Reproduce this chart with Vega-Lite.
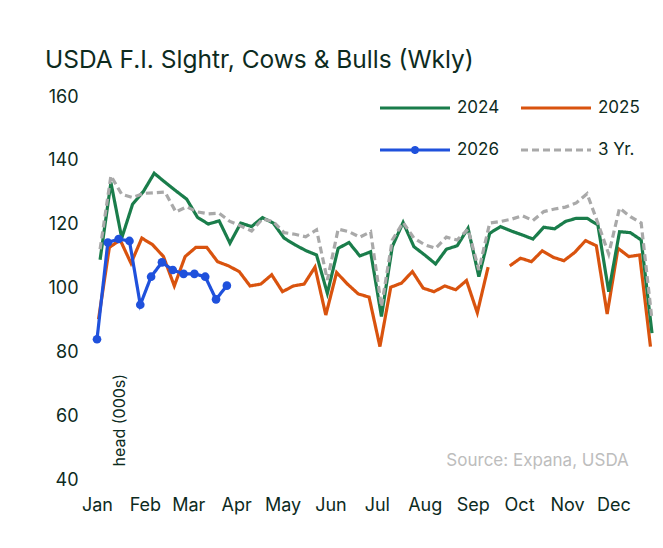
{
  "$schema": "https://vega.github.io/schema/vega-lite/v6.json",
  "width": 555,
  "height": 383,
  "autosize": {"type": "none"},
  "padding": {"left": 97, "top": 97, "right": 11, "bottom": 68},
  "background": "white",
  "title": {"text": "USDA F.I. Slghtr, Cows & Bulls (Wkly)", "anchor": "start", "frame": "group", "dx": -52, "offset": 15, "fontSize": 24.5, "font": "Inter", "fontWeight": "normal", "color": "#0d2b1e"},
  "config": {
    "view": {"stroke": null},
    "font": "Inter",
    "axis": {"grid": false, "domain": false, "ticks": false, "tickSize": 0, "labelFont": "Inter", "labelFontSize": 18, "labelColor": "#0d2b1e"}
  },
  "data": {"values": [
    {"series":"2025","date":"2025/01/02","value":90.4},{"series":"2025","date":"2025/01/09","value":112.9},{"series":"2025","date":"2025/01/16","value":115.2},{"series":"2025","date":"2025/01/23","value":107.9},{"series":"2025","date":"2025/01/30","value":115.8},
    {"series":"2025","date":"2025/02/06","value":113.7},{"series":"2025","date":"2025/02/13","value":110.0},{"series":"2025","date":"2025/02/20","value":100.8},{"series":"2025","date":"2025/02/27","value":110.0},
    {"series":"2025","date":"2025/03/06","value":112.9},{"series":"2025","date":"2025/03/13","value":112.9},{"series":"2025","date":"2025/03/20","value":108.4},{"series":"2025","date":"2025/03/27","value":107.1},
    {"series":"2025","date":"2025/04/03","value":105.3},{"series":"2025","date":"2025/04/10","value":100.8},{"series":"2025","date":"2025/04/17","value":101.4},{"series":"2025","date":"2025/04/24","value":104.3},
    {"series":"2025","date":"2025/05/01","value":99.0},{"series":"2025","date":"2025/05/08","value":100.8},{"series":"2025","date":"2025/05/15","value":101.4},{"series":"2025","date":"2025/05/22","value":106.7},{"series":"2025","date":"2025/05/29","value":91.7},
    {"series":"2025","date":"2025/06/05","value":105.0},{"series":"2025","date":"2025/06/12","value":101.4},{"series":"2025","date":"2025/06/19","value":98.3},{"series":"2025","date":"2025/06/26","value":97.3},
    {"series":"2025","date":"2025/07/03","value":81.8},{"series":"2025","date":"2025/07/10","value":100.4},{"series":"2025","date":"2025/07/17","value":101.7},{"series":"2025","date":"2025/07/24","value":105.3},{"series":"2025","date":"2025/07/31","value":100.1},
    {"series":"2025","date":"2025/08/07","value":99.0},{"series":"2025","date":"2025/08/14","value":100.8},{"series":"2025","date":"2025/08/21","value":99.6},{"series":"2025","date":"2025/08/28","value":102.5},
    {"series":"2025","date":"2025/09/04","value":92.4},{"series":"2025","date":"2025/09/11","value":106.7},{"series":"2025","date":"2025/09/18","value":null},{"series":"2025","date":"2025/09/25","value":107.1},
    {"series":"2025","date":"2025/10/02","value":109.5},{"series":"2025","date":"2025/10/09","value":108.4},{"series":"2025","date":"2025/10/16","value":111.8},{"series":"2025","date":"2025/10/23","value":109.8},{"series":"2025","date":"2025/10/30","value":108.7},
    {"series":"2025","date":"2025/11/06","value":111.3},{"series":"2025","date":"2025/11/13","value":115.0},{"series":"2025","date":"2025/11/20","value":113.4},{"series":"2025","date":"2025/11/27","value":92.0},
    {"series":"2025","date":"2025/12/04","value":112.6},{"series":"2025","date":"2025/12/11","value":110.0},{"series":"2025","date":"2025/12/18","value":110.5},{"series":"2025","date":"2025/12/25","value":81.8},

    {"series":"2024","date":"2025/01/03","value":109.0},{"series":"2024","date":"2025/01/10","value":133.2},{"series":"2024","date":"2025/01/17","value":115.8},{"series":"2024","date":"2025/01/24","value":126.4},{"series":"2024","date":"2025/01/31","value":130.4},
    {"series":"2024","date":"2025/02/07","value":136.1},{"series":"2024","date":"2025/02/14","value":133.3},{"series":"2024","date":"2025/02/21","value":130.6},{"series":"2024","date":"2025/02/28","value":128.0},
    {"series":"2024","date":"2025/03/07","value":122.3},{"series":"2024","date":"2025/03/14","value":120.2},{"series":"2024","date":"2025/03/21","value":121.2},{"series":"2024","date":"2025/03/28","value":114.2},
    {"series":"2024","date":"2025/04/04","value":120.5},{"series":"2024","date":"2025/04/11","value":119.4},{"series":"2024","date":"2025/04/18","value":122.2},{"series":"2024","date":"2025/04/25","value":120.5},
    {"series":"2024","date":"2025/05/02","value":115.8},{"series":"2024","date":"2025/05/09","value":113.7},{"series":"2024","date":"2025/05/16","value":111.9},{"series":"2024","date":"2025/05/23","value":110.5},{"series":"2024","date":"2025/05/30","value":98.5},
    {"series":"2024","date":"2025/06/06","value":112.6},{"series":"2024","date":"2025/06/13","value":114.4},{"series":"2024","date":"2025/06/20","value":110.2},{"series":"2024","date":"2025/06/27","value":111.5},
    {"series":"2024","date":"2025/07/04","value":91.2},{"series":"2024","date":"2025/07/11","value":113.1},{"series":"2024","date":"2025/07/18","value":120.7},{"series":"2024","date":"2025/07/25","value":113.1},
    {"series":"2024","date":"2025/08/01","value":110.5},{"series":"2024","date":"2025/08/08","value":107.7},{"series":"2024","date":"2025/08/15","value":112.3},{"series":"2024","date":"2025/08/22","value":113.4},{"series":"2024","date":"2025/08/29","value":118.9},
    {"series":"2024","date":"2025/09/05","value":103.7},{"series":"2024","date":"2025/09/12","value":117.3},{"series":"2024","date":"2025/09/19","value":119.4},{"series":"2024","date":"2025/09/26","value":118.0},
    {"series":"2024","date":"2025/10/03","value":116.8},{"series":"2024","date":"2025/10/10","value":115.5},{"series":"2024","date":"2025/10/17","value":119.2},{"series":"2024","date":"2025/10/24","value":118.7},{"series":"2024","date":"2025/10/31","value":121.0},
    {"series":"2024","date":"2025/11/07","value":122.0},{"series":"2024","date":"2025/11/14","value":122.0},{"series":"2024","date":"2025/11/21","value":119.9},{"series":"2024","date":"2025/11/28","value":99.0},
    {"series":"2024","date":"2025/12/05","value":117.8},{"series":"2024","date":"2025/12/12","value":117.5},{"series":"2024","date":"2025/12/19","value":115.2},{"series":"2024","date":"2025/12/26","value":86.0},

    {"series":"3 Yr.","date":"2025/01/03","value":112.3},{"series":"3 Yr.","date":"2025/01/10","value":135.3},{"series":"3 Yr.","date":"2025/01/17","value":129.5},{"series":"3 Yr.","date":"2025/01/24","value":128.5},{"series":"3 Yr.","date":"2025/01/31","value":129.8},
    {"series":"3 Yr.","date":"2025/02/07","value":130.0},{"series":"3 Yr.","date":"2025/02/14","value":130.2},{"series":"3 Yr.","date":"2025/02/21","value":124.0},{"series":"3 Yr.","date":"2025/02/28","value":125.6},
    {"series":"3 Yr.","date":"2025/03/07","value":124.0},{"series":"3 Yr.","date":"2025/03/14","value":123.4},{"series":"3 Yr.","date":"2025/03/21","value":123.6},{"series":"3 Yr.","date":"2025/03/28","value":121.0},
    {"series":"3 Yr.","date":"2025/04/04","value":119.6},{"series":"3 Yr.","date":"2025/04/11","value":118.0},{"series":"3 Yr.","date":"2025/04/18","value":121.8},{"series":"3 Yr.","date":"2025/04/25","value":121.0},
    {"series":"3 Yr.","date":"2025/05/02","value":117.5},{"series":"3 Yr.","date":"2025/05/09","value":117.0},{"series":"3 Yr.","date":"2025/05/16","value":116.2},{"series":"3 Yr.","date":"2025/05/23","value":118.4},{"series":"3 Yr.","date":"2025/05/30","value":102.7},
    {"series":"3 Yr.","date":"2025/06/06","value":118.6},{"series":"3 Yr.","date":"2025/06/13","value":117.8},{"series":"3 Yr.","date":"2025/06/20","value":116.1},{"series":"3 Yr.","date":"2025/06/27","value":117.8},
    {"series":"3 Yr.","date":"2025/07/04","value":94.3},{"series":"3 Yr.","date":"2025/07/11","value":115.2},{"series":"3 Yr.","date":"2025/07/18","value":120.7},{"series":"3 Yr.","date":"2025/07/25","value":115.8},
    {"series":"3 Yr.","date":"2025/08/01","value":113.7},{"series":"3 Yr.","date":"2025/08/08","value":112.6},{"series":"3 Yr.","date":"2025/08/15","value":116.1},{"series":"3 Yr.","date":"2025/08/22","value":115.2},{"series":"3 Yr.","date":"2025/08/29","value":118.6},
    {"series":"3 Yr.","date":"2025/09/05","value":105.8},{"series":"3 Yr.","date":"2025/09/12","value":120.5},{"series":"3 Yr.","date":"2025/09/19","value":121.0},{"series":"3 Yr.","date":"2025/09/26","value":121.7},
    {"series":"3 Yr.","date":"2025/10/03","value":122.8},{"series":"3 Yr.","date":"2025/10/10","value":121.3},{"series":"3 Yr.","date":"2025/10/17","value":124.1},{"series":"3 Yr.","date":"2025/10/24","value":124.9},{"series":"3 Yr.","date":"2025/10/31","value":125.5},
    {"series":"3 Yr.","date":"2025/11/07","value":126.8},{"series":"3 Yr.","date":"2025/11/14","value":129.7},{"series":"3 Yr.","date":"2025/11/21","value":120.5},{"series":"3 Yr.","date":"2025/11/28","value":110.8},
    {"series":"3 Yr.","date":"2025/12/05","value":125.2},{"series":"3 Yr.","date":"2025/12/12","value":122.5},{"series":"3 Yr.","date":"2025/12/19","value":120.5},{"series":"3 Yr.","date":"2025/12/26","value":90.2},

    {"series":"2026","date":"2025/01/01","value":84.1},{"series":"2026","date":"2025/01/08","value":114.4},{"series":"2026","date":"2025/01/15","value":115.5},{"series":"2026","date":"2025/01/22","value":114.9},{"series":"2026","date":"2025/01/29","value":94.9},
    {"series":"2026","date":"2025/02/05","value":103.7},{"series":"2026","date":"2025/02/12","value":108.2},{"series":"2026","date":"2025/02/19","value":105.8},{"series":"2026","date":"2025/02/26","value":104.6},
    {"series":"2026","date":"2025/03/05","value":104.6},{"series":"2026","date":"2025/03/12","value":103.7},{"series":"2026","date":"2025/03/19","value":96.6},{"series":"2026","date":"2025/03/26","value":100.9}
  ]},
  "layer": [
    {
      "mark": {"type": "line", "strokeWidth": 3.2, "invalid": "break-paths-show-domains"},
      "encoding": {
        "x": {"field": "date", "type": "temporal", "scale": {"domain": [{"year": 2025, "month": 1, "date": 1}, {"year": 2025, "month": 12, "date": 26}], "nice": false},
              "axis": {"format": "%b", "tickCount": {"interval": "month", "step": 1}, "labelPadding": 16, "labelFlush": false, "title": null}},
        "y": {"field": "value", "type": "quantitative", "scale": {"domain": [40, 160], "nice": false, "zero": false},
              "axis": {"values": [40, 60, 80, 100, 120, 140, 160], "labelPadding": 19, "title": "head (000s)", "titleFont": "Inter", "titleFontSize": 16, "titleFontWeight": "normal", "titleColor": "#0d2b1e", "titleAngle": 270, "titleAlign": "left", "titleBaseline": "alphabetic", "titleX": 27, "titleY": 369}},
        "color": {"field": "series", "type": "nominal",
                  "scale": {"domain": ["2024", "2025", "2026", "3 Yr."], "range": ["#1a7d4b", "#d9530e", "#1f51dc", "#a9a9a9"]},
                  "legend": {"title": null, "orient": "none", "direction": "horizontal", "legendX": 281, "legendY": 1, "columns": 2, "padding": 0, "symbolType": "stroke", "symbolSize": 4900, "symbolStrokeWidth": 3.2, "clipHeight": 20, "rowPadding": 22, "columnPadding": 19, "labelOffset": 5, "labelFont": "Inter", "labelFontSize": 17, "labelColor": "#0d2b1e",
                    "encode": {"symbols": {"update": {"shape": {"signal": "datum.value === '2026' ? 'M-1,0H1M-0.07,0a0.07,0.07 0 1,0 0.14,0a0.07,0.07 0 1,0 -0.14,0' : 'stroke'"}, "fill": {"signal": "datum.value === '2026' ? '#1f51dc' : 'transparent'"}, "strokeWidth": {"signal": "datum.value === '3 Yr.' ? 2.5 : 3.2"}}}}}},
        "strokeDash": {"field": "series", "type": "nominal",
                  "scale": {"domain": ["2024", "2025", "2026", "3 Yr."], "range": [[1, 0], [1, 0], [1, 0], [7, 4]]},
                  "legend": {"title": null, "orient": "none", "direction": "horizontal", "legendX": 281, "legendY": 1, "columns": 2, "padding": 0, "symbolType": "stroke", "symbolSize": 4900, "symbolStrokeWidth": 3.2, "clipHeight": 20, "rowPadding": 22, "columnPadding": 19, "labelOffset": 5, "labelFont": "Inter", "labelFontSize": 17, "labelColor": "#0d2b1e",
                    "encode": {"symbols": {"update": {"shape": {"signal": "datum.value === '2026' ? 'M-1,0H1M-0.07,0a0.07,0.07 0 1,0 0.14,0a0.07,0.07 0 1,0 -0.14,0' : 'stroke'"}, "fill": {"signal": "datum.value === '2026' ? '#1f51dc' : 'transparent'"}, "strokeWidth": {"signal": "datum.value === '3 Yr.' ? 2.5 : 3.2"}}}}}},
        "strokeWidth": {"field": "series", "type": "nominal", "scale": {"domain": ["2024", "2025", "2026", "3 Yr."], "range": [3.2, 3.2, 3, 2.5]}, "legend": null}
      }
    },
    {
      "transform": [{"filter": "datum.series === '2026'"}],
      "mark": {"type": "point", "filled": true, "size": 75, "opacity": 1, "color": "#1f51dc"},
      "encoding": {
        "x": {"field": "date", "type": "temporal"},
        "y": {"field": "value", "type": "quantitative"}
      }
    },
    {
      "data": {"values": [{"note": "Source: Expana, USDA"}]},
      "mark": {"type": "text", "align": "right", "baseline": "middle", "fontSize": 17, "font": "Inter", "color": "#bdbdbd"},
      "encoding": {
        "x": {"datum": {"year": 2025, "month": 12, "date": 11}, "type": "temporal"},
        "y": {"datum": 46, "type": "quantitative"},
        "text": {"field": "note"}
      }
    }
  ]
}
